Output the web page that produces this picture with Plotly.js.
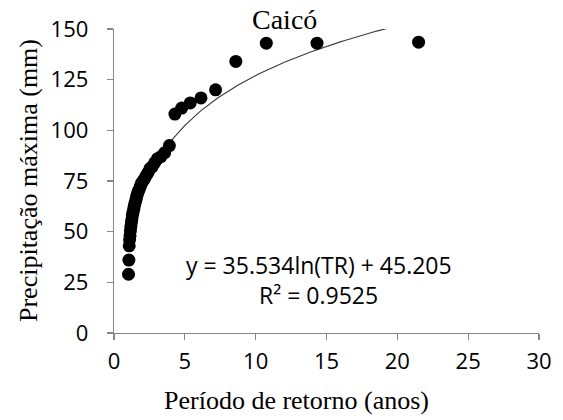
<!DOCTYPE html>
<html>
<head>
<meta charset="utf-8">
<script src="https://cdn.plot.ly/plotly-3.0.1.min.js"></script>
<style>
  html, body { margin: 0; padding: 0; background: #ffffff; }
  #chart { width: 563px; height: 420px; }
</style>
</head>
<body>
<div id="chart"></div>
<script>
// Return period (years) and maximum precipitation (mm)
const returnPeriod = [21.5, 14.33, 10.75, 8.6, 7.17, 6.14, 5.38, 4.78, 4.3, 3.91,
  3.58, 3.31, 3.07, 2.87, 2.69, 2.53, 2.39, 2.26, 2.15, 2.05,
  1.95, 1.87, 1.79, 1.72, 1.65, 1.59, 1.54, 1.48, 1.43, 1.39,
  1.34, 1.30, 1.26, 1.23, 1.19, 1.16, 1.13, 1.10, 1.075, 1.05, 1.024];
const maxPrecip = [143.5, 143, 143, 134, 120, 116, 113.5, 111, 108, 92.5,
  89, 87, 86, 84, 82, 81, 79, 77.5, 76, 75,
  74, 72.5, 71, 70, 68.5, 67, 65.5, 64, 62.5, 61,
  59.5, 58, 56, 54.5, 52.5, 50.5, 48, 46, 43, 36, 29];

// Logarithmic trend line coefficients shown on the chart: y = a ln(TR) + b
const trendCoef = [35.534, 45.205];
const equationText = ["y = 35.534ln(TR) + 45.205", "R\u00b2 = 0.9525"];
const chartTitle = "Caicó";
const xTitle = "Período de retorno (anos)";
const yTitle = "Precipitação máxima (mm)";
const xTicks = [0, 5, 10, 15, 20, 25, 30];
const yTicks = [0, 25, 50, 75, 100, 125, 150];

// trend line sampled over the data range
const xMin = Math.min(...returnPeriod), xMax = Math.max(...returnPeriod);
const trendX = [], trendY = [];
for (let i = 0; i <= 200; i++) {
  const x = xMin + (xMax - xMin) * i / 200;
  trendX.push(x);
  trendY.push(trendCoef[0] * Math.log(x) + trendCoef[1]);
}

const axisColor = '#878787';
const sansFam = '"Open Sans", Lato, sans-serif';
const serifFam = '"Liberation Serif", "Times New Roman", serif';
const tickFont = { family: sansFam, size: 22, color: '#000000' };
const titleFont = { family: serifFam, size: 26, color: '#000000' };

const data = [
  {
    x: trendX, y: trendY, type: 'scatter', mode: 'lines',
    line: { color: '#3a3a3a', width: 1.1 },
    hoverinfo: 'skip', showlegend: false
  },
  {
    x: returnPeriod, y: maxPrecip, type: 'scatter', mode: 'markers',
    marker: { color: '#000000', size: 13 },
    cliponaxis: false, showlegend: false
  }
];

const layout = {
  width: 563, height: 420,
  margin: { l: 114, r: 24, t: 29, b: 87 },
  paper_bgcolor: '#ffffff', plot_bgcolor: '#ffffff',
  showlegend: false,
  xaxis: {
    range: [0, 30], tickvals: xTicks, ticktext: xTicks.map(String),
    showgrid: false, zeroline: false, showline: true, linecolor: axisColor, linewidth: 1.3,
    ticks: 'outside', ticklen: 6, tickcolor: axisColor, tickwidth: 1.3,
    tickfont: tickFont, ticklabelstandoff: 2
  },
  yaxis: {
    range: [0, 150], tickvals: yTicks, ticktext: yTicks.map(String),
    showgrid: false, zeroline: false, showline: true, linecolor: axisColor, linewidth: 1.3,
    ticks: 'outside', ticklen: 6, tickcolor: axisColor, tickwidth: 1.3,
    tickfont: tickFont, ticklabelstandoff: 14
  },
  annotations: [
    {
      text: chartTitle, xref: 'paper', yref: 'paper', x: 0.4, y: 1.0,
      xanchor: 'center', yanchor: 'middle', yshift: 10, showarrow: false,
      font: { family: serifFam, size: 28, color: '#000000' }
    },
    {
      text: xTitle, xref: 'paper', yref: 'paper', x: 0.43, y: 0,
      xanchor: 'center', yanchor: 'middle', yshift: -67, showarrow: false,
      font: titleFont
    },
    {
      text: yTitle, xref: 'paper', yref: 'paper', x: 0, y: 0.5,
      xanchor: 'center', yanchor: 'middle', xshift: -86, textangle: -90, showarrow: false,
      font: titleFont
    },
    {
      text: equationText[0], xref: 'x', yref: 'y', x: 14.47, y: 33.5,
      xanchor: 'center', yanchor: 'middle', showarrow: false,
      font: { family: sansFam, size: 23, color: '#000000' }
    },
    {
      text: equationText[1], xref: 'x', yref: 'y', x: 14.47, y: 18.7,
      xanchor: 'center', yanchor: 'middle', showarrow: false,
      font: { family: sansFam, size: 23, color: '#000000' }
    }
  ]
};

Plotly.newPlot('chart', data, layout, { staticPlot: true, displayModeBar: false });
</script>
</body>
</html>
